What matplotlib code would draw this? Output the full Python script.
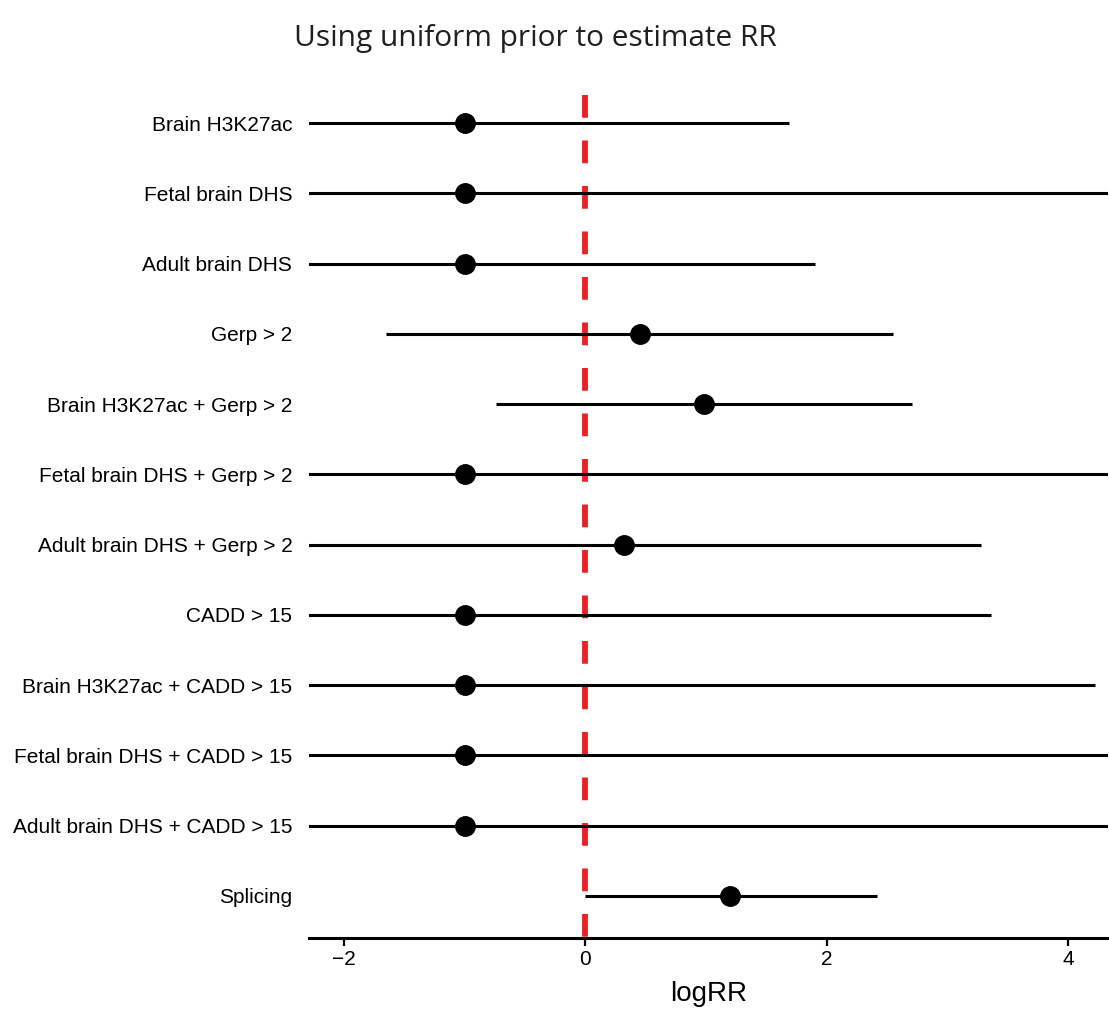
import matplotlib
matplotlib.use("Agg")
import matplotlib.pyplot as plt

labels = ["Brain H3K27ac", "Fetal brain DHS", "Adult brain DHS", "Gerp > 2",
          "Brain H3K27ac + Gerp > 2", "Fetal brain DHS + Gerp > 2",
          "Adult brain DHS + Gerp > 2", "CADD > 15",
          "Brain H3K27ac + CADD > 15", "Fetal brain DHS + CADD > 15",
          "Adult brain DHS + CADD > 15", "Splicing"]
estimate = [-1.0, -1.0, -1.0, 0.45, 0.98, -1.0, 0.32, -1.0, -1.0, -1.0, -1.0, 1.2]
lower = [-3.5, -3.5, -3.5, -1.65, -0.74, -3.5, -3.5, -3.5, -3.5, -3.5, -3.5, 0.0]
upper = [1.69, 6.0, 1.9, 2.55, 2.71, 6.0, 3.28, 3.36, 4.22, 6.0, 6.0, 2.42]

plt.rcParams['font.family'] = ['Liberation Sans', 'DejaVu Sans']

fig = plt.figure(figsize=(11.09, 10.14), dpi=100)
ax = fig.add_axes([0.2786, 0.075, 0.7204, 0.8313])

n = len(labels)
ypos = list(range(n, 0, -1))

# reference line at 0, dash pattern starting from the top
ax.plot([0, 0], [1, 0], transform=ax.get_xaxis_transform(), color='#ec2027',
        lw=4.2, linestyle=(0, (3.9, 3.9)), zorder=1, solid_capstyle='butt')
ax.hlines(ypos, lower, upper, color='black', lw=2.2, zorder=2)
ax.plot(estimate, ypos, 'o', color='black', ms=14, zorder=3)

ax.set_xlim(-2.29, 4.33)
ax.set_ylim(0.4, 12.4)
ax.set_yticks(ypos)
ax.set_yticklabels(labels, fontsize=15)
ax.set_xticks([-2, 0, 2, 4])
ax.set_xticklabels(['\u22122', '0', '2', '4'], fontsize=15)
ax.tick_params(axis='y', length=0, pad=12)
ax.tick_params(axis='x', length=6, width=1.6, direction='out', pad=3)

for s in ['top', 'right', 'left']:
    ax.spines[s].set_visible(False)
ax.spines['bottom'].set_linewidth(2.2)

ax.set_xlabel('logRR', fontsize=20, labelpad=8)

fig.text(0.483, 0.962, 'Using uniform prior to estimate RR', fontsize=21.5,
         family=['Open Sans', 'DejaVu Sans'], color='#231f20',
         ha='center', va='center')

fig.savefig('out.png', dpi=100)
